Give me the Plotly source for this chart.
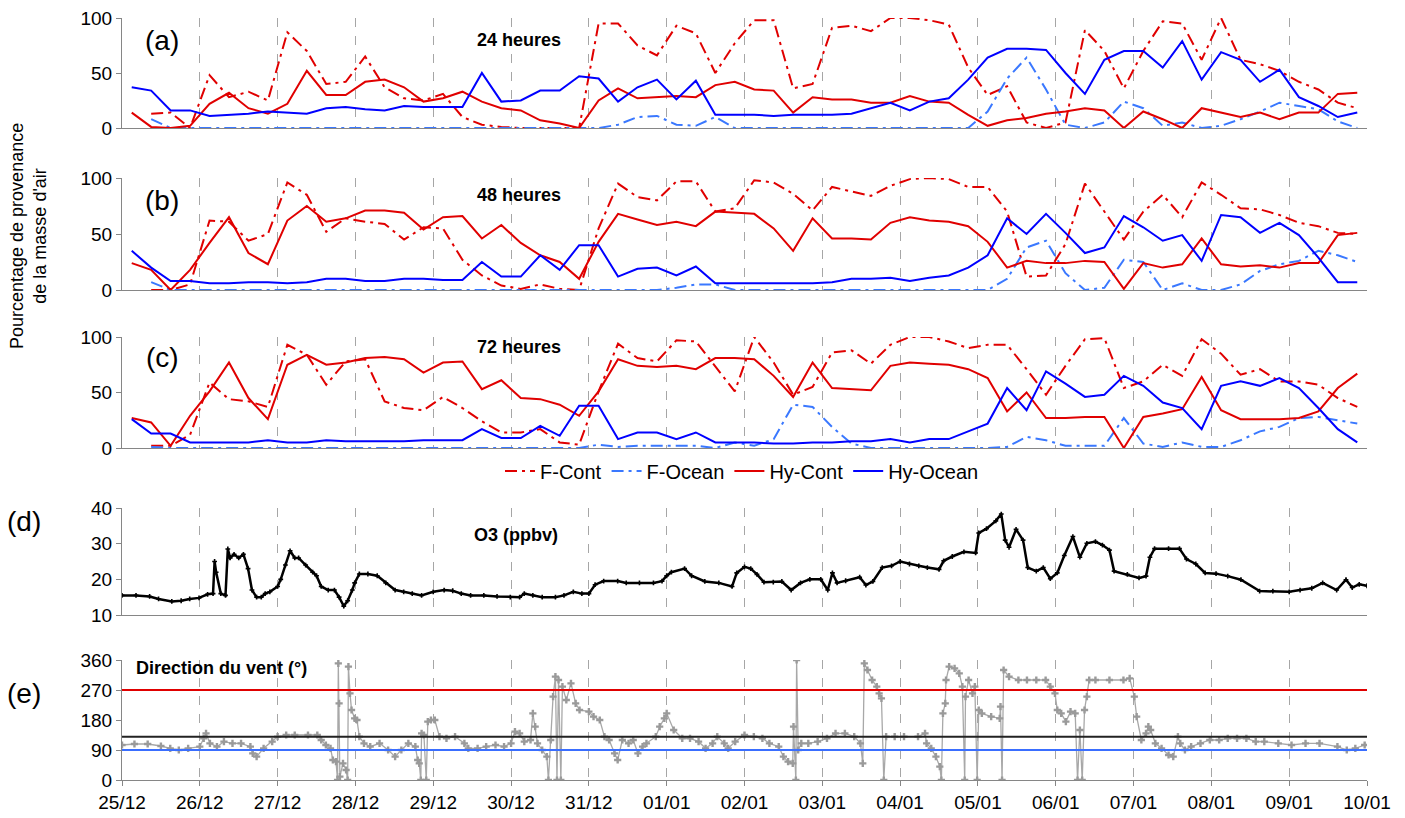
import plotly.graph_objects as go

# ---------------- DATA ----------------
day_labels = ["25/12", "26/12", "27/12", "28/12", "29/12", "30/12", "31/12", "01/01",
              "02/01", "03/01", "04/01", "05/01", "06/01", "07/01", "08/01", "09/01", "10/01"]

# trajectory times: every 6 h, at 03, 09, 15, 21 h (hours since 25/12 00h)
traj_hours = [3 + 6 * k for k in range(64)]

N = None
# ---- (a) 24 heures
a_fcont = [N, 13, 14, 0, 48, 28, 33, 25, 87, 70, 40, 42, 65, 37, 27, 25, 31, 10, 3, 1, 0, 0, 0, 0, 95, 95, 75, 66, 93,
           86, 50, 77, 98, 98, 36, 40, 91, 93, 88, 100, 100, 98, 94, 55, 30, 38, 5, 0, 5, 89, 70, 36, 70, 97, 95, 62,
           100, 62, 58, 52, 42, 35, 23, 18]
a_focean = [N, 8] + [0] * 23 + [3, 10, 11, 3,
            2, 10] + [0] * 13 + [15, 45, 64, 35, 3, 0, 5, 24, 18, 2, 5, 0, 2, 8, 15, 23, 20, 17, 6, 0]
a_hycont = [14, 1, 0, 2, 22, 32, 18, 13, 22, 52, 30, 30, 42, 44, 37, 24, 27, 33, 24, 18, 16, 7, 4, 0, 25, 36, 27, 28, 29,
            28, 39, 42, 35, 34, 14, 28, 26, 26, 23, 23, 29, 24, 23, 12, 2, 7, 9, 13, 15, 18, 16, 0, 15, 8, 0, 18, 14,
            10, 14, 8, 14, 14, 31, 32]
a_hyocean = [37, 34, 16, 16, 11, 12, 13, 15, 14, 13, 18, 19, 17, 16, 20, 19, 19, 19, 50, 24, 25, 34, 34, 47, 45, 24, 37,
             44, 26,
             43, 12, 12, 12, 11, 12, 12, 12, 13, 18, 23, 16, 24, 27, 44, 64, 72, 72, 71, 50, 31, 62, 70, 70, 55, 79, 44,
             69, 62, 42, 53, 28, 20, 10, 14]
# ---- (b) 48 heures
b_fcont = [N, 0, 0, 5, 62, 61, 44, 50, 96, 85, 52, 64, 61, 59, 45, 56, 55, 27, 13, 4, 1, 5, 1, 0, 55, 95, 83, 80, 97,
           97, 70, 73, 98, 96, 86, 71, 92, 88, 84, 93, 99, 100, 99, 92, 92, 70, 12, 13, 41, 95, 70, 45, 70, 85, 65, 96,
           85, 73, 72, 67, 60, 57, 51, 50]
b_focean = [N, 7] + [0] * 26 + [2,
            5, 5] + [0] * 14 + [10, 38, 44, 15, 0, 2, 27, 25, 0, 6, 0, 0, 5, 17, 23, 26, 35, 31, 25]
b_hycont = [24, 18, 0, 18, 42, 65, 33, 23, 62, 75, 61, 64, 71, 71, 69, 54, 65, 66, 46, 58, 42, 31, 25, 10, 43, 68, 63,
            58, 61,
            57, 70, 69, 68, 55, 35, 64, 46, 46, 45, 60, 65, 62, 61, 57, 43, 20, 26, 24, 24, 26, 25, 1, 24, 20, 23, 46,
            23, 21, 22, 20, 24, 24, 49, 51]
b_hyocean = [35, 20, 8, 8, 6, 6, 7, 7, 6, 7, 10, 10, 8, 8, 10, 10, 9, 9, 25, 12, 12, 31, 18, 40, 40, 12, 19, 20, 13,
             21, 6, 6, 6, 6, 6, 6, 7, 10, 10, 11, 8, 11, 13, 20, 31, 64, 50, 68, 51, 33, 38, 66, 56, 44, 49, 26, 67, 65,
             51, 60, 49, 29, 7, 7]
# ---- (c) 72 heures
c_fcont = [N, 2, 2, 12, 59, 44, 42, 37, 93, 84, 57, 78, 80, 42, 36, 34, 46, 36, 24, 14, 14, 17, 5, 3, 51, 94, 81, 78, 97,
           96, 74, 51, 100, 77, 48, 55, 86, 88, 76, 93, 100, 100, 96, 90, 93, 93, 71, 48, 74, 98, 99, 54, 60, 75, 65,
           98, 85, 66, 71, 60, 60, 57, 45, 37]
c_focean = [N, 1] + [0] * 22 + [3, 1, 2, 2, 2,
            2, 0, 5, 2, 8, 39, 37, 19, 4, 0, 0, 0, 0, 0, 0, 0, 1, 10, 7, 2, 2, 2, 27, 4, 1, 5, 1, 1, 7, 15, 19, 27, 28,
            25, 22]
c_hycont = [27, 23, 2, 29, 51, 77, 45, 26, 75, 84, 75, 77, 81, 82, 80, 68, 77, 78, 53, 61, 45, 44, 39, 29, 51, 80, 74,
            73, 74,
            71, 81, 81, 80, 65, 46, 77, 54, 53, 52, 74, 77, 76, 75, 71, 63, 33, 50, 27, 27, 28, 28, 0, 28, 31, 35, 64,
            34, 26, 26, 26, 27, 33, 54, 67]
c_hyocean = [26, 13, 13, 5, 5, 5, 5, 7, 5, 5, 7, 6, 6, 6, 6, 7, 7, 7, 17, 9, 9, 20, 11, 38, 38, 8, 14, 14, 8,
             14, 5, 5, 5, 4, 4, 5, 5, 6, 6, 8, 5, 8, 8, 15, 22, 54, 34, 69, 58, 46, 48, 65, 56, 41, 36, 17, 56, 60, 56,
             63, 54, 36, 17, 5]

# ---- (d) O3 (ppbv): time in days since 25/12 00h
o3_t = [0, 0.18, 0.355, 0.47, 0.64, 0.76, 0.87, 0.99, 1.10, 1.17, 1.19, 1.21, 1.27, 1.33, 1.36, 1.39, 1.44, 1.50, 1.56,
        1.62, 1.67, 1.73, 1.79, 1.84, 1.90, 2.00, 2.04, 2.10, 2.16, 2.22, 2.27, 2.36, 2.45, 2.50, 2.56, 2.65, 2.73,
        2.79, 2.85, 2.90, 2.96, 2.99, 3.05, 3.16, 3.28, 3.39, 3.51, 3.62, 3.73, 3.85, 4.00, 4.14, 4.25, 4.36, 4.48,
        4.65, 4.82, 4.99, 5.11, 5.17, 5.28, 5.40, 5.57, 5.68, 5.80, 5.91, 6.00, 6.08, 6.19, 6.37, 6.48, 6.65, 6.83,
        6.94, 7.00, 7.06, 7.23, 7.32, 7.49, 7.67, 7.84, 7.90, 8.00, 8.08, 8.16, 8.25, 8.37, 8.48, 8.60, 8.72, 8.84,
        8.98, 9.07, 9.13, 9.19, 9.30, 9.48, 9.56, 9.65, 9.77, 9.89, 10.00, 10.12, 10.24, 10.35, 10.50, 10.56, 10.67,
        10.82, 10.97, 11.01, 11.11, 11.23, 11.30, 11.35, 11.40, 11.49, 11.58, 11.64, 11.75, 11.84, 11.93, 12.02,
        12.11, 12.22, 12.31, 12.40, 12.51, 12.60, 12.69, 12.75, 12.92, 13.07, 13.16, 13.21, 13.27, 13.45, 13.59,
        13.68, 13.80, 13.92, 14.06, 14.21, 14.38, 14.62, 14.79, 15.00, 15.14, 15.29, 15.43, 15.61, 15.73, 15.81,
        15.90, 16.00]
o3_v = [15.5, 15.5, 15.2, 14.5, 13.8, 14.0, 14.5, 14.8, 15.8, 16, 25, 22, 16, 15.5, 28.5, 26, 27, 26, 27,
        23, 17, 15, 15, 16, 16.5, 18, 20, 24, 28, 26, 26, 24, 22, 21, 18, 17, 17,
        15, 12.5, 14, 17, 19, 21.5, 21.5, 21, 19, 17, 16.5, 16, 15.5, 16.5, 17, 16.8, 16, 15.5,
        15.5, 15.2, 15, 15, 16, 15.5, 15, 15, 15.5, 16.5, 16, 16, 18.5, 19.5, 19.5, 19, 19, 19,
        19.5, 21, 22, 23, 21, 19.4, 19, 18, 21.8, 23.5, 23, 21.4, 19.2, 19.2, 19.4, 17, 19, 20,
        20, 17, 21.8, 19, 19.6, 20.6, 18.4, 19.4, 23.3, 23.8, 25, 24.3, 23.8, 23.3, 22.8, 25.2, 26.4,
        27.7, 27.4, 33, 34.2, 36.4, 38.3, 31, 29, 34, 31, 23.3, 22.3, 23.3, 20.2, 21.8,
        26.7, 32, 26.2, 30.1, 30.6, 29.6, 28.2, 22.3, 21.4, 20.4, 20.9, 26.2, 28.6, 28.6, 28.6,
        25.7, 24.3, 21.8, 21.6, 20.9, 19.9, 16.7, 16.7, 16.5, 17, 17.5, 19, 17, 19.9, 17.7,
        18.6, 18.2]

# ---- (e) wind direction (deg): time in days since 25/12 00h
wd_t = [0, 0.16, 0.33, 0.50, 0.62, 0.73, 0.85, 1.00, 1.05, 1.08, 1.13, 1.22, 1.31, 1.42, 1.53, 1.65, 1.68, 1.73, 1.82,
        1.93, 2.00, 2.11, 2.22, 2.39, 2.51, 2.56, 2.62, 2.68, 2.71, 2.75, 2.77, 2.78, 2.79, 2.80, 2.84, 2.88, 2.90,
        2.91, 2.93, 2.95, 2.99, 3.02, 3.05, 3.11, 3.19, 3.31, 3.42, 3.51, 3.59, 3.68, 3.77, 3.80, 3.82, 3.84, 3.85,
        3.88, 3.91, 3.93, 3.97, 4.02, 4.08, 4.17, 4.28, 4.40, 4.45, 4.57, 4.68, 4.80, 4.91, 5.00, 5.05, 5.11, 5.17,
        5.25, 5.28, 5.31, 5.34, 5.40, 5.46, 5.48, 5.51, 5.54, 5.57, 5.59, 5.61, 5.64, 5.66, 5.71, 5.77, 5.83, 5.88,
        6.00, 6.06, 6.14, 6.20, 6.26, 6.33, 6.37, 6.43, 6.51, 6.57, 6.63, 6.69, 6.74, 6.86, 6.91, 6.97, 7.00, 7.09,
        7.20, 7.30, 7.41, 7.50, 7.59, 7.65, 7.74, 7.79, 7.88, 8.00, 8.12, 8.23, 8.32, 8.44, 8.50, 8.56, 8.62, 8.63,
        8.66, 8.67, 8.69, 8.73, 8.82, 8.94, 9.06, 9.17, 9.29, 9.41, 9.49, 9.52, 9.54, 9.58, 9.64, 9.70, 9.73, 9.76,
        9.79, 9.82, 9.93, 10.05, 10.23, 10.32, 10.34, 10.40, 10.46, 10.51, 10.53, 10.55, 10.58, 10.59, 10.63, 10.70,
        10.76, 10.80, 10.83, 10.84, 10.88, 10.93, 10.96, 10.99, 11.01, 11.05, 11.17, 11.28, 11.29, 11.31, 11.33,
        11.40, 11.52, 11.63, 11.75, 11.87, 11.93, 11.99, 12.02, 12.07, 12.13, 12.19, 12.25, 12.28, 12.31, 12.34,
        12.37, 12.40, 12.43, 12.51, 12.69, 12.87, 12.95, 13.01, 13.04, 13.10, 13.16, 13.19, 13.22, 13.28, 13.36,
        13.45, 13.51, 13.57, 13.60, 13.66, 13.74, 13.86, 13.98, 14.10, 14.21, 14.33, 14.45, 14.57, 14.68, 14.86,
        15.03, 15.21, 15.39, 15.62, 15.74, 15.85, 15.97]
wd_v = [105, 108, 108, 102, 95, 90, 95, 100, 125, 140, 110, 100, 115, 110, 110, 100, 80, 70, 95,
        115, 130, 135, 135, 135, 135, 120, 105, 95, 60, 55, 0, 350, 230, 10, 50, 30, 0,
        340, 260, 210, 185, 180, 130, 110, 100, 110, 90, 70, 90, 110, 100, 60, 50, 0, 140,
        135, 0, 175, 180, 180, 130, 125, 130, 110, 95, 95, 100, 105, 100, 110, 145, 140, 115,
        120, 200, 160, 110, 90, 70, 0, 120, 250, 310, 0, 300, 0, 280, 240, 290, 230, 210,
        205, 190, 180, 130, 120, 80, 60, 120, 110, 120, 80, 100, 110, 130, 160, 185, 200, 150,
        125, 125, 115, 95, 110, 130, 110, 95, 115, 135, 130, 125, 110, 100, 70, 55, 50, 160,
        0, 360, 90, 110, 110, 115, 125, 140, 140, 130, 110, 50, 350, 330, 300, 280, 260, 245,
        0, 130, 130, 130, 130, 140, 110, 95, 70, 40, 0, 200, 230, 300, 340, 335,
        320, 280, 0, 250, 300, 260, 280, 0, 210, 200, 190, 185, 220, 0, 330,
        310, 300, 300, 300, 300, 280, 260, 210, 200, 175, 205, 200, 0, 150, 0,
        210, 250, 300, 300, 300, 300, 305, 250, 190, 120, 140, 160, 150, 110, 95,
        75, 70, 130, 110, 90, 100, 110, 120, 120, 125, 125, 125, 115, 115, 110,
        105, 110, 110, 100, 90, 95, 105]

ref_lines = [(270, "#E00000"), (130, "#222222"), (90, "#3A6EFF")]

# ---------------- STYLE ----------------
RED = "#E00000"
BLUE = "#0000FF"
LBLUE = "#3A78FF"
DASH = "12px,5px,3px,5px"
FONT = "Liberation Sans, Arial, sans-serif"
GRID = "#A6A6A6"
AXC = "#868686"
OFF = 8                      # page body margin
W, H = 1405 - OFF, 818 - OFF  # figure size
TICKF = 19
TITLEF = 18
LABF = 28

traj_days = [h / 24 for h in traj_hours]


def px(xp):
    return (xp - OFF) / W


def py(yp):
    return 1 - (yp - OFF) / H


def ydom(top, bot):
    return [py(bot), py(top)]


xdom = [px(122), px(1367)]
panels = [
    ((18, 128), (a_fcont, a_focean, a_hycont, a_hyocean), "(a)", "24 heures", (40, 40)),
    ((178, 290), (b_fcont, b_focean, b_hycont, b_hyocean), "(b)", "48 heures", (200, 195)),
    ((337, 448), (c_fcont, c_focean, c_hycont, c_hyocean), "(c)", "72 heures", (358, 347)),
]

fig = go.Figure()
names = ["F-Cont", "F-Ocean", "Hy-Cont", "Hy-Ocean"]
styles = [dict(color=RED, dash=DASH, width=2), dict(color=LBLUE, dash=DASH, width=2),
          dict(color=RED, width=2), dict(color=BLUE, width=2)]

layout = dict(width=W, height=H, margin=dict(l=0, r=0, t=0, b=0, autoexpand=False), paper_bgcolor="white",
              plot_bgcolor="white", font=dict(family=FONT, size=TICKF, color="black"),
              showlegend=True,
              legend=dict(orientation="h", x=px(742), y=py(471), xanchor="center", yanchor="middle",
                          font=dict(size=20), itemwidth=30, bgcolor="rgba(0,0,0,0)", tracegroupgap=0),
              annotations=[], shapes=[])


def xaxis_cfg(anchor, show_labels=False):
    return dict(domain=xdom, anchor=anchor, range=[0, 16], tickmode="array",
                tickvals=list(range(len(day_labels))),
                ticktext=day_labels if show_labels else [""] * len(day_labels),
                showgrid=True, gridcolor=GRID, griddash="dash", gridwidth=1, showline=True, linecolor=AXC,
                linewidth=1, zeroline=False, ticks="outside" if show_labels else "", ticklen=5, tickcolor=AXC,
                tickfont=dict(size=TICKF), fixedrange=True, automargin=False, ticklabeloverflow="allow")


def yaxis_cfg(anchor, dom, rng, tickvals):
    return dict(domain=dom, anchor=anchor, range=rng, tickmode="array", tickvals=tickvals,
                showgrid=False, showline=True, linecolor=AXC, linewidth=1, zeroline=False, ticks="outside",
                ticklen=5, tickcolor=AXC, tickfont=dict(size=TICKF), fixedrange=True, automargin=False,
                ticklabeloverflow="allow")


for i, (ypx, series, lab, title, (ly, ty)) in enumerate(panels):
    n = i + 1
    xa = "x" if n == 1 else f"x{n}"
    ya = "y" if n == 1 else f"y{n}"
    layout["xaxis" if n == 1 else f"xaxis{n}"] = xaxis_cfg(ya)
    layout["yaxis" if n == 1 else f"yaxis{n}"] = yaxis_cfg(xa, ydom(*ypx), [0, 100], [0, 50, 100])
    for s, nm, st in zip(series, names, styles):
        fig.add_trace(go.Scatter(x=traj_days, y=s, mode="lines", name=nm, line=st, xaxis=xa, yaxis=ya,
                                 showlegend=(n == 1), connectgaps=False, hoverinfo="skip"))
    layout["annotations"].append(dict(text=lab, x=px(162), y=py(ly), xref="paper", yref="paper",
                                      showarrow=False, font=dict(size=LABF), xanchor="center", yanchor="middle"))
    layout["annotations"].append(dict(text=f"<b>{title}</b>", x=px(519), y=py(ty), xref="paper",
                                      yref="paper", showarrow=False, font=dict(size=TITLEF), xanchor="center",
                                      yanchor="middle"))

# panel d
layout["xaxis4"] = xaxis_cfg("y4")
layout["yaxis4"] = yaxis_cfg("x4", ydom(508, 615), [10, 40], [10, 20, 30, 40])
fig.add_trace(go.Scatter(x=o3_t, y=o3_v, mode="lines+markers", xaxis="x4", yaxis="y4", showlegend=False,
                         line=dict(color="black", width=2.5),
                         marker=dict(symbol="cross", size=4, color="black"), hoverinfo="skip"))
layout["annotations"].append(dict(text="(d)", x=px(24), y=py(521), xref="paper", yref="paper",
                                  showarrow=False, font=dict(size=LABF), xanchor="center", yanchor="middle"))
layout["annotations"].append(dict(text="<b>O3 (ppbv)</b>", x=px(516), y=py(535), xref="paper", yref="paper",
                                  showarrow=False, font=dict(size=TITLEF), xanchor="center", yanchor="middle"))

# panel e
layout["xaxis5"] = xaxis_cfg("y5", show_labels=True)
layout["yaxis5"] = yaxis_cfg("x5", ydom(660, 780), [0, 360], [0, 90, 180, 270, 360])
fig.add_trace(go.Scatter(x=wd_t, y=wd_v, mode="lines+markers", xaxis="x5", yaxis="y5", showlegend=False,
                         line=dict(color="#A8A8A8", width=1.3),
                         marker=dict(symbol="cross", size=6, color="#9A9A9A"), hoverinfo="skip"))
for val, col in ref_lines:
    layout["shapes"].append(dict(type="line", xref="x5", yref="y5", x0=0, x1=16, y0=val, y1=val,
                                 line=dict(color=col, width=2), layer="above"))
layout["annotations"].append(dict(text="(e)", x=px(24), y=py(693), xref="paper", yref="paper",
                                  showarrow=False, font=dict(size=LABF), xanchor="center", yanchor="middle"))
layout["annotations"].append(dict(text="<b>Direction du vent (°)</b>", x=px(134), y=py(668), xref="paper",
                                  yref="paper", showarrow=False, font=dict(size=TITLEF), xanchor="left",
                                  yanchor="middle"))

# y title
layout["annotations"].append(dict(text="Pourcentage de provenance<br>de la masse d'air", x=px(29), y=py(236),
                                  xref="paper", yref="paper", showarrow=False, textangle=-90,
                                  font=dict(size=18), xanchor="center", yanchor="middle"))

fig.update_layout(**layout)
fig.write_html("out.html")
